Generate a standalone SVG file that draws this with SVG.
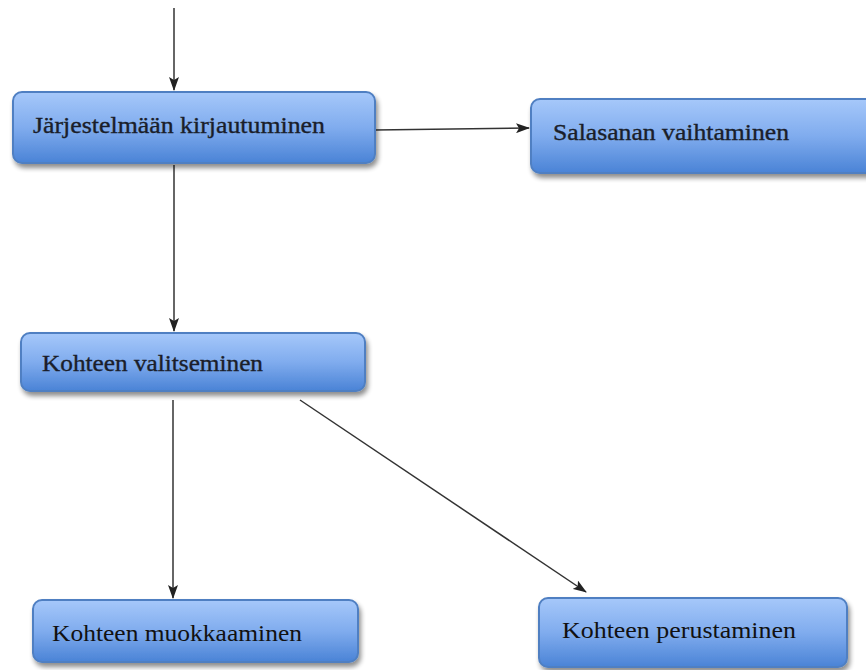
<svg xmlns="http://www.w3.org/2000/svg" width="866" height="670" viewBox="0 0 866 670">
<defs>
<linearGradient id="g" x1="0" y1="0" x2="0" y2="1">
<stop offset="0" stop-color="#a6c8fa"/>
<stop offset="0.5" stop-color="#80acee"/>
<stop offset="1" stop-color="#4a83d6"/>
</linearGradient>
<filter id="sh" x="-10%" y="-20%" width="120%" height="150%">
<feGaussianBlur in="SourceAlpha" stdDeviation="2.5"/>
<feOffset dx="2" dy="4" result="b"/>
<feComponentTransfer><feFuncA type="linear" slope="0.45"/></feComponentTransfer>
<feMerge><feMergeNode/><feMergeNode in="SourceGraphic"/></feMerge>
</filter>
<marker id="ah" markerWidth="14" markerHeight="10" refX="13" refY="5" orient="auto" markerUnits="userSpaceOnUse">
<path d="M0,0 L14,5 L0,10 L3,5 Z" fill="#222"/>
</marker>
</defs>
<style>
.box{fill:url(#g);stroke:#4f7fc2;stroke-width:2;filter:url(#sh)}
.t{font-family:"Liberation Serif","DejaVu Serif",serif;font-size:23px;fill:#1a1e2a;stroke:#1a1e2a;stroke-width:0.35}
.t2{font-family:"Liberation Serif","DejaVu Serif",serif;font-size:23px;fill:#111}
.c{stroke:#333;stroke-width:1.5;fill:none;marker-end:url(#ah)}
</style>
<g id="connectors">
<line class="c" x1="174" y1="8" x2="174" y2="90"/>
<line class="c" x1="375" y1="130" x2="529" y2="128"/>
<line class="c" x1="174" y1="165" x2="174" y2="331"/>
<line class="c" x1="173" y1="400" x2="173" y2="598"/>
<line class="c" x1="300" y1="400" x2="586" y2="592"/>
</g>
<g id="n1">
<rect class="box" x="13" y="92" width="362" height="71" rx="9"/>
<text class="t" x="33" y="133" textLength="292" lengthAdjust="spacingAndGlyphs">Järjestelmään kirjautuminen</text>
</g>
<g id="n2">
<rect class="box" x="531" y="99" width="345" height="74" rx="9"/>
<text class="t" x="553" y="140" textLength="236" lengthAdjust="spacingAndGlyphs">Salasanan vaihtaminen</text>
</g>
<g id="n3">
<rect class="box" x="21" y="333" width="344" height="58" rx="9"/>
<text class="t" x="42" y="371" textLength="221" lengthAdjust="spacingAndGlyphs">Kohteen valitseminen</text>
</g>
<g id="n4">
<rect class="box" x="33" y="600" width="325" height="62" rx="9"/>
<text class="t2" x="52" y="641" textLength="250" lengthAdjust="spacingAndGlyphs">Kohteen muokkaaminen</text>
</g>
<g id="n5">
<rect class="box" x="539" y="598" width="308" height="69" rx="9"/>
<text class="t2" x="562" y="638" textLength="234" lengthAdjust="spacingAndGlyphs">Kohteen perustaminen</text>
</g>
</svg>
